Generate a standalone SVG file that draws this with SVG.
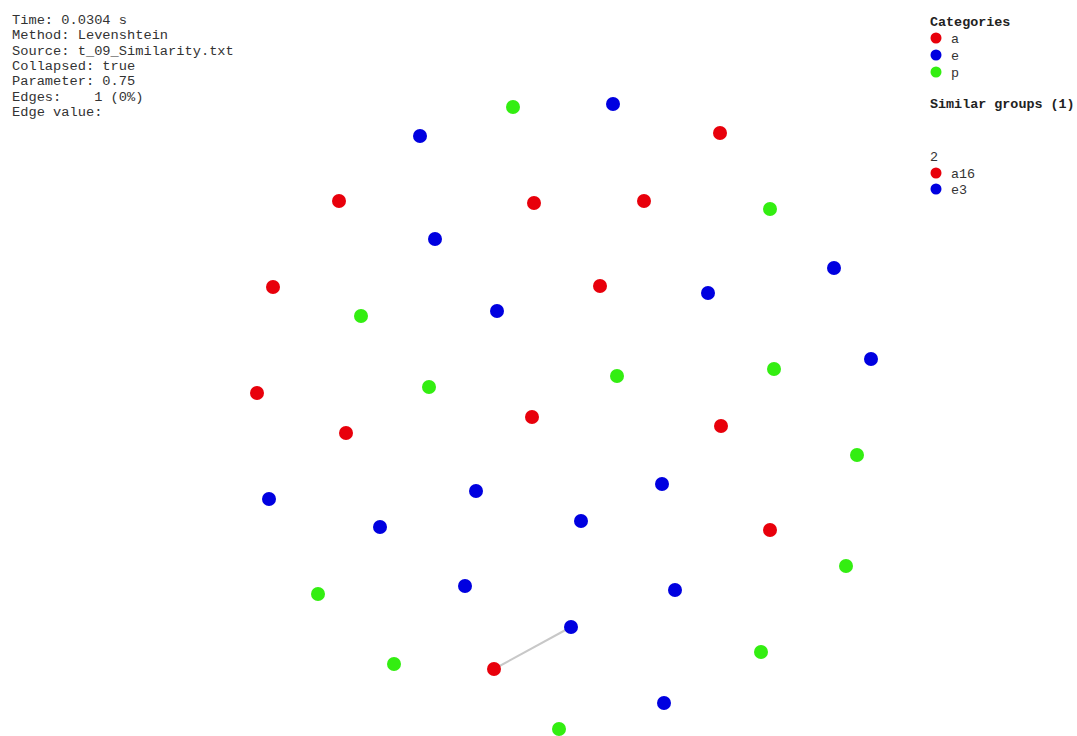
<svg xmlns="http://www.w3.org/2000/svg" width="1077" height="736" viewBox="0 0 1077 736">
<style>
text{font-family:"Liberation Mono","Courier New",monospace;font-size:13.4px;fill:#333;white-space:pre}
#info text{font-size:13.7px}
.b{font-weight:bold;fill:#222}
.a{fill:#e8000b}.e{fill:#0000e0}.p{fill:#33ee11}
.edge{stroke:#c8c8c8;stroke-width:2}
</style>
<rect width="1077" height="736" fill="#fff"/>
<g id="info">
<text x="12" y="24">Time: 0.0304 s</text>
<text x="12" y="39">Method: Levenshtein</text>
<text x="12" y="55">Source: t_09_Similarity.txt</text>
<text x="12" y="70">Collapsed: true</text>
<text x="12" y="85">Parameter: 0.75</text>
<text x="12" y="101" xml:space="preserve">Edges:    1 (0%)</text>
<text x="12" y="116">Edge value:</text>
</g>
<g id="legend">
<text class="b" x="930" y="26">Categories</text>
<circle class="a" cx="936" cy="38" r="5.5"/><text x="951" y="43">a</text>
<circle class="e" cx="936" cy="55" r="5.5"/><text x="951" y="60">e</text>
<circle class="p" cx="936" cy="72" r="5.5"/><text x="951" y="77">p</text>
<text class="b" x="930" y="108">Similar groups (1)</text>
<text x="930" y="161">2</text>
<circle class="a" cx="936" cy="173" r="5.5"/><text x="951" y="178">a16</text>
<circle class="e" cx="936" cy="189" r="5.5"/><text x="951" y="194">e3</text>
</g>
<g id="connectors">
<line class="edge" x1="494" y1="669" x2="571" y2="627"/>
</g>
<g id="nodes-p">
<circle id="p1" class="p" cx="513" cy="107" r="7"/>
<circle id="p2" class="p" cx="770" cy="209" r="7"/>
<circle id="p3" class="p" cx="361" cy="316" r="7"/>
<circle id="p4" class="p" cx="429" cy="387" r="7"/>
<circle id="p5" class="p" cx="617" cy="376" r="7"/>
<circle id="p6" class="p" cx="774" cy="369" r="7"/>
<circle id="p7" class="p" cx="857" cy="455" r="7"/>
<circle id="p8" class="p" cx="318" cy="594" r="7"/>
<circle id="p9" class="p" cx="846" cy="566" r="7"/>
<circle id="p10" class="p" cx="394" cy="664" r="7"/>
<circle id="p11" class="p" cx="761" cy="652" r="7"/>
<circle id="p12" class="p" cx="559" cy="729" r="7"/>
</g>
<g id="nodes-e">
<circle id="e1" class="e" cx="613" cy="104" r="7"/>
<circle id="e2" class="e" cx="420" cy="136" r="7"/>
<circle id="e4" class="e" cx="435" cy="239" r="7"/>
<circle id="e5" class="e" cx="834" cy="268" r="7"/>
<circle id="e6" class="e" cx="497" cy="311" r="7"/>
<circle id="e7" class="e" cx="708" cy="293" r="7"/>
<circle id="e8" class="e" cx="871" cy="359" r="7"/>
<circle id="e9" class="e" cx="269" cy="499" r="7"/>
<circle id="e10" class="e" cx="476" cy="491" r="7"/>
<circle id="e11" class="e" cx="662" cy="484" r="7"/>
<circle id="e12" class="e" cx="380" cy="527" r="7"/>
<circle id="e13" class="e" cx="581" cy="521" r="7"/>
<circle id="e14" class="e" cx="465" cy="586" r="7"/>
<circle id="e15" class="e" cx="675" cy="590" r="7"/>
<circle id="e3" class="e" cx="571" cy="627" r="7"/>
<circle id="e16" class="e" cx="664" cy="703" r="7"/>
</g>
<g id="nodes-a">
<circle id="a1" class="a" cx="720" cy="133" r="7"/>
<circle id="a2" class="a" cx="339" cy="201" r="7"/>
<circle id="a3" class="a" cx="534" cy="203" r="7"/>
<circle id="a4" class="a" cx="644" cy="201" r="7"/>
<circle id="a5" class="a" cx="273" cy="287" r="7"/>
<circle id="a6" class="a" cx="600" cy="286" r="7"/>
<circle id="a7" class="a" cx="257" cy="393" r="7"/>
<circle id="a8" class="a" cx="346" cy="433" r="7"/>
<circle id="a9" class="a" cx="532" cy="417" r="7"/>
<circle id="a10" class="a" cx="721" cy="426" r="7"/>
<circle id="a11" class="a" cx="770" cy="530" r="7"/>
<circle id="a16" class="a" cx="494" cy="669" r="7"/>
</g>
</svg>
